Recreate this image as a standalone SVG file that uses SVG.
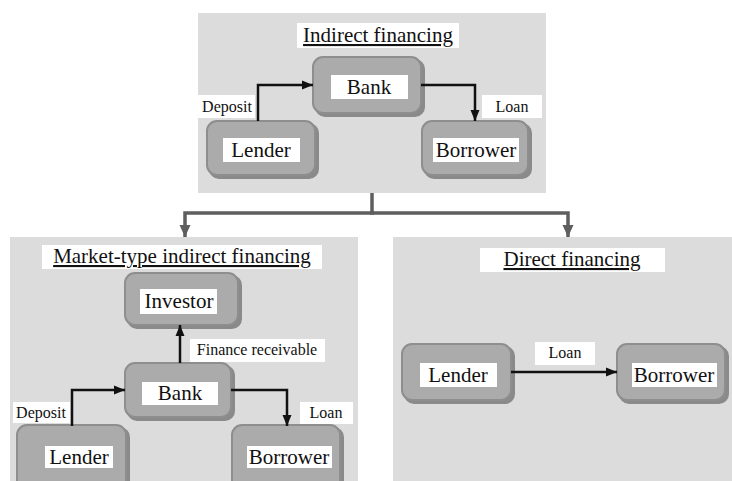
<svg xmlns="http://www.w3.org/2000/svg" width="732" height="481" viewBox="0 0 732 481" font-family="'Liberation Serif', 'Times New Roman', 'DejaVu Serif', serif">
<defs>
<marker id="ah" markerUnits="userSpaceOnUse" markerWidth="12" markerHeight="12" viewBox="0 0 12 12" refX="11" refY="6" orient="auto"><path d="M0,1.5 L11,6 L0,10.5 Z" fill="#111"/></marker>
<marker id="gh" markerUnits="userSpaceOnUse" markerWidth="14" markerHeight="14" viewBox="0 0 14 14" refX="12" refY="7" orient="auto"><path d="M0,1.5 L12,7 L0,12.5 Z" fill="#5e5e5e"/></marker>
<style>
.panel{fill:#dcdcdc}
.sh{fill:#8a8a8a}
.node{fill:#ababab;stroke:#8e8e8e;stroke-width:2}
.lb{fill:#fff}
text{font-family:'Liberation Serif','Times New Roman','DejaVu Serif',serif;fill:#111;text-anchor:middle}
.nt{font-size:21px}
.tt{font-size:21px;text-decoration:underline}
.et{font-size:16px}
.ar{fill:none;stroke:#111;stroke-width:2.5}
.gr{fill:none;stroke:#5e5e5e;stroke-width:3.5}
</style>
</defs>
<g id="panel-indirect">
<rect class="panel" x="198" y="13" width="348" height="180"/>
<rect class="lb" x="297" y="23" width="162" height="25"/>
<text class="tt" x="378" y="42">Indirect financing</text>
</g>
<g id="panel-market">
<rect class="panel" x="10" y="237" width="348" height="250"/>
<rect class="lb" x="42" y="245" width="280" height="24"/>
<text class="tt" x="182" y="263">Market-type indirect financing</text>
</g>
<g id="panel-direct">
<rect class="panel" x="393" y="237" width="345" height="250"/>
<rect class="lb" x="480" y="248" width="185" height="24"/>
<text class="tt" x="572" y="266">Direct financing</text>
</g>
<g id="top-bank">
<rect class="sh" x="315" y="59" width="110" height="58" rx="10"/>
<rect class="node" x="313" y="57" width="108" height="56" rx="10"/>
<rect class="lb" x="331" y="75" width="77" height="24"/>
<text class="nt" x="369" y="94">Bank</text>
</g>
<g id="top-lender">
<rect class="sh" x="209" y="123" width="110" height="56" rx="10"/>
<rect class="node" x="207" y="121" width="108" height="54" rx="10"/>
<rect class="lb" x="223" y="138" width="77" height="24"/>
<text class="nt" x="261" y="157">Lender</text>
</g>
<g id="top-borrower">
<rect class="sh" x="424" y="123" width="108" height="56" rx="10"/>
<rect class="node" x="422" y="121" width="106" height="54" rx="10"/>
<rect class="lb" x="433" y="138" width="86" height="24"/>
<text class="nt" x="476" y="157">Borrower</text>
</g>
<g id="mk-investor">
<rect class="sh" x="127" y="275" width="115" height="54" rx="10"/>
<rect class="node" x="125" y="273" width="113" height="52" rx="10"/>
<rect class="lb" x="140" y="289" width="77" height="25"/>
<text class="nt" x="179" y="308">Investor</text>
</g>
<g id="mk-bank">
<rect class="sh" x="127" y="365" width="108" height="56" rx="10"/>
<rect class="node" x="125" y="363" width="106" height="54" rx="10"/>
<rect class="lb" x="142" y="382" width="76" height="23"/>
<text class="nt" x="180" y="400">Bank</text>
</g>
<g id="mk-lender">
<rect class="sh" x="19" y="427" width="111" height="70" rx="10"/>
<rect class="node" x="17" y="425" width="109" height="68" rx="10"/>
<rect class="lb" x="45" y="446" width="68" height="22"/>
<text class="nt" x="79" y="464">Lender</text>
</g>
<g id="mk-borrower">
<rect class="sh" x="234" y="427" width="110" height="70" rx="10"/>
<rect class="node" x="232" y="425" width="108" height="68" rx="10"/>
<rect class="lb" x="247" y="446" width="85" height="22"/>
<text class="nt" x="289" y="464">Borrower</text>
</g>
<g id="dr-lender">
<rect class="sh" x="404" y="346" width="111" height="58" rx="10"/>
<rect class="node" x="402" y="344" width="109" height="56" rx="10"/>
<rect class="lb" x="420" y="363" width="77" height="24"/>
<text class="nt" x="458" y="382">Lender</text>
</g>
<g id="dr-borrower">
<rect class="sh" x="619" y="346" width="110" height="58" rx="10"/>
<rect class="node" x="617" y="344" width="108" height="56" rx="10"/>
<rect class="lb" x="632" y="363" width="85" height="24"/>
<text class="nt" x="674" y="382">Borrower</text>
</g>
<g id="connectors">
<path class="gr" d="M372,193 V213"/>
<path class="gr" d="M374,213 H185 V237" marker-end="url(#gh)"/>
<path class="gr" d="M370,213 H568 V237" marker-end="url(#gh)"/>
<path class="ar" d="M258,121 V85 H313" marker-end="url(#ah)"/>
<path class="ar" d="M421,85 H475 V121" marker-end="url(#ah)"/>
<path class="ar" d="M180,363 V325" marker-end="url(#ah)"/>
<path class="ar" d="M72,426 V390 H125" marker-end="url(#ah)"/>
<path class="ar" d="M231,390 H287 V426" marker-end="url(#ah)"/>
<path class="ar" d="M511,372 H617" marker-end="url(#ah)"/>
<rect class="lb" x="198" y="95" width="57" height="23"/>
<text class="et" x="227" y="112">Deposit</text>
<rect class="lb" x="482" y="95" width="60" height="23"/>
<text class="et" x="512" y="112">Loan</text>
<rect class="lb" x="190" y="339" width="135" height="23"/>
<text class="et" x="257" y="355">Finance receivable</text>
<rect class="lb" x="13" y="402" width="57" height="21"/>
<text class="et" x="41" y="418">Deposit</text>
<rect class="lb" x="300" y="402" width="53" height="22"/>
<text class="et" x="326" y="418">Loan</text>
<rect class="lb" x="535" y="342" width="60" height="23"/>
<text class="et" x="565" y="358">Loan</text>
</g>
</svg>
